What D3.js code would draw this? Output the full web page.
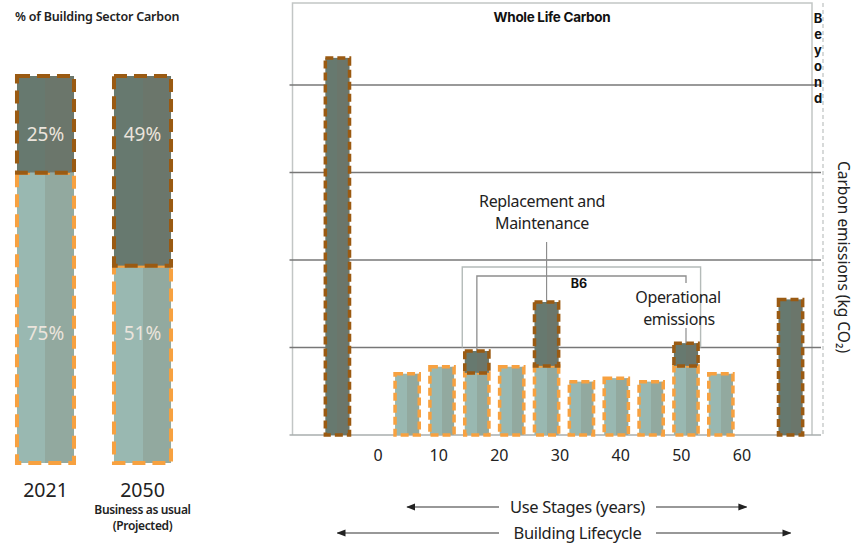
<!doctype html>
<html>
<head>
<meta charset="utf-8">
<title>Whole Life Carbon</title>
<script src="https://cdnjs.cloudflare.com/ajax/libs/d3/7.8.5/d3.min.js"></script>
<style>
  body { margin: 0; background: #fff; }
  text { font-family: "Noto Sans", sans-serif; fill: #222; }
  .bold { font-family: Inter, "DejaVu Sans", sans-serif; font-weight: 700; fill: #111; }
</style>
</head>
<body>
<div id="chart"></div>
<script>
  // left panel: % of building sector carbon
  const shareYears = ['2021', '2050'];
  const shareOperational = [75, 51];
  const shareEmbodied = [25, 49];

  // right panel: one slot per stage (gaps keep the spacing of the original)
  const stageKeys = ['A1-A5', 'gapA', 'U1', 'U2', 'U3', 'U4', 'U5', 'U6', 'U7', 'U8', 'U9', 'U10', 'gapC', 'C'];
  const operational = [0, 0, 70, 78, 71, 78, 79, 61, 65, 61, 79, 70, 0, 0];
  const embodied = [431, 0, 0, 0, 25, 0, 73, 0, 0, 0, 26, 0, 0, 155];
  const yearTicks = [0, 10, 20, 30, 40, 50, 60];
  const gridValues = [100, 200, 300, 400];

  const W = 857, H = 545;
  const svg = d3.select('#chart').append('svg').attr('width', W).attr('height', H);

  const colors = {
    darkL: '#67796f', darkR: '#6b766b', lightL: '#99b8b1', lightR: '#92a99f',
    brown: '#9a5a12', orange: '#f7a140', grid: '#777', frame: '#c2c6c5'
  };

  // split-tone fills
  const defs = svg.append('defs');
  [['gDark', colors.darkL, colors.darkR], ['gLight', colors.lightL, colors.lightR]].forEach(([id, a, b]) => {
    const g = defs.append('linearGradient').attr('id', id).attr('x1', 0).attr('x2', 1).attr('y1', 0).attr('y2', 0);
    g.append('stop').attr('offset', '0%').attr('stop-color', a);
    g.append('stop').attr('offset', '50%').attr('stop-color', a);
    g.append('stop').attr('offset', '50%').attr('stop-color', b);
    g.append('stop').attr('offset', '100%').attr('stop-color', b);
  });
  defs.append('marker').attr('id', 'arrow').attr('viewBox', '0 0 10 10')
    .attr('refX', 9).attr('refY', 5).attr('markerWidth', 9).attr('markerHeight', 9)
    .attr('markerUnits', 'userSpaceOnUse').attr('orient', 'auto-start-reverse')
    .append('path').attr('d', 'M0,1 L10,5 L0,9 Z').attr('fill', '#222');

  // ---------- left panel ----------
  svg.append('text').attr('x', 15).attr('y', 21)
    .style('font-size', '12.5px').style('font-weight', 600).style('letter-spacing', '-0.2px')
    .text('% of Building Sector Carbon');

  const xL = d3.scaleBand().domain(shareYears).range([-3, 191]).paddingInner(0.412).paddingOuter(0.206);
  const yL = d3.scaleLinear().domain([0, 100]).range([463, 76]);

  const leftRows = shareYears.map((yr, i) => ({ yr, operational: shareOperational[i], embodied: shareEmbodied[i] }));
  const leftStack = d3.stack().keys(['operational', 'embodied'])(leftRows);

  leftStack.forEach(layer => {
    const dark = layer.key === 'embodied';
    svg.append('g').selectAll('rect').data(layer).join('rect')
      .attr('x', d => xL(d.data.yr))
      .attr('width', xL.bandwidth())
      .attr('y', d => yL(d[1]))
      .attr('height', d => yL(d[0]) - yL(d[1]))
      .attr('fill', dark ? 'url(#gDark)' : 'url(#gLight)')
      .attr('stroke', dark ? colors.brown : colors.orange)
      .attr('stroke-width', 4)
      .attr('stroke-dasharray', '13,7');
  });

  // percentage labels sit on two fixed rows
  const labelRows = [{ vals: shareEmbodied, y: 134 }, { vals: shareOperational, y: 333 }];
  labelRows.forEach(r => {
    svg.append('g').selectAll('text').data(r.vals).join('text')
      .attr('x', (d, i) => xL(shareYears[i]) + xL.bandwidth() / 2)
      .attr('y', r.y)
      .attr('text-anchor', 'middle').attr('dominant-baseline', 'central')
      .style('font-size', '19px').style('fill', '#ebe4dc')
      .text(d => d + '%');
  });

  svg.append('g').selectAll('text').data(shareYears).join('text')
    .attr('x', d => xL(d) + xL.bandwidth() / 2)
    .attr('y', 497)
    .attr('text-anchor', 'middle')
    .style('font-size', '19.5px')
    .text(d => d);

  const bauX = xL('2050') + xL.bandwidth() / 2;
  svg.append('text').attr('x', bauX).attr('y', 514).attr('text-anchor', 'middle')
    .style('font-size', '12px').style('font-weight', 600).style('letter-spacing', '-0.35px')
    .text('Business as usual');
  svg.append('text').attr('x', bauX).attr('y', 530).attr('text-anchor', 'middle')
    .style('font-size', '12px').style('font-weight', 600).style('letter-spacing', '-0.35px')
    .text('(Projected)');

  // ---------- right panel ----------
  const plot = { left: 292.5, right: 812, top: 3, bottom: 435, beyond: 823 };
  const x = d3.scaleBand().domain(stageKeys).range([320, 808]).paddingInner(0.22).paddingOuter(0.11);
  const y = d3.scaleLinear().domain([0, 500]).range([plot.bottom, plot.bottom - 500 * 0.875]);
  const xYears = d3.scaleLinear().domain([0, 60]).range([378, 742]);

  // frame
  svg.append('path')
    .attr('d', `M${plot.left},${plot.bottom} V${plot.top} H${plot.right} V${plot.bottom}`)
    .attr('fill', 'none').attr('stroke', colors.frame).attr('stroke-width', 1.5);
  svg.append('line').attr('x1', plot.beyond).attr('x2', plot.beyond).attr('y1', plot.top).attr('y2', plot.bottom)
    .attr('stroke', colors.frame).attr('stroke-width', 1.3).attr('stroke-dasharray', '4,3');

  // gridlines
  svg.append('g').selectAll('line').data(gridValues).join('line')
    .attr('x1', plot.left - 3).attr('x2', plot.beyond - 2)
    .attr('y1', d => y(d)).attr('y2', d => y(d))
    .attr('stroke', colors.grid).attr('stroke-width', 1.6);
  svg.append('line').attr('x1', plot.left - 3).attr('x2', plot.beyond - 2)
    .attr('y1', y(0)).attr('y2', y(0)).attr('stroke', '#a9aeae').attr('stroke-width', 1.5);

  svg.append('text').attr('class', 'bold').attr('x', 552).attr('y', 22)
    .attr('text-anchor', 'middle').style('font-size', '13.5px').style('letter-spacing', '-0.3px')
    .text('Whole Life Carbon');

  const beyond = svg.append('text').attr('class', 'bold').attr('text-anchor', 'middle')
    .style('font-size', '13px');
  'Beyond'.split('').forEach((c, i) => {
    beyond.append('tspan').attr('x', 818).attr('y', 23 + i * 16).text(c);
  });

  svg.append('text')
    .attr('transform', 'translate(838,257) rotate(90)')
    .attr('text-anchor', 'middle')
    .style('font-size', '15.5px')
    .text('Carbon emissions (kg CO₂)');

  // annotation box + bracket for B6
  const bw = x.bandwidth();
  const bx0 = x('U3') - 1, bx1 = x('U9') + bw + 1;
  svg.append('path')
    .attr('d', `M${bx0},${y(100)} V267 H${bx1} V${y(100)}`)
    .attr('fill', 'none').attr('stroke', '#b4bbb9').attr('stroke-width', 1.4);
  const c3 = x('U3') + bw / 2, c5 = x('U5') + bw / 2, c9 = x('U9') + bw / 2;
  svg.append('path')
    .attr('d', `M${c3},${y(operational[4] + embodied[4])} V276 H${c9} V283`)
    .attr('fill', 'none').attr('stroke', '#8d8d8d').attr('stroke-width', 1.3);
  svg.append('text').attr('class', 'bold').attr('x', 579).attr('y', 288)
    .attr('text-anchor', 'middle').style('font-size', '12.5px').text('B6');

  // bars
  const rows = stageKeys.map((k, i) => ({ key: k, operational: operational[i], embodied: embodied[i] }));
  const stack = d3.stack().keys(['operational', 'embodied'])(rows);
  stack.forEach(layer => {
    const dark = layer.key === 'embodied';
    svg.append('g').selectAll('rect').data(layer.filter(d => d[1] > d[0])).join('rect')
      .attr('x', d => x(d.data.key) + 1.5)
      .attr('width', bw - 3)
      .attr('y', d => y(d[1]))
      .attr('height', d => y(d[0]) - y(d[1]))
      .attr('fill', dark ? 'url(#gDark)' : 'url(#gLight)')
      .attr('stroke', dark ? colors.brown : colors.orange)
      .attr('stroke-width', 3.5)
      .attr('stroke-dasharray', '8,4');
  });

  // leaders + callouts
  svg.append('line').attr('x1', c5).attr('x2', c5).attr('y1', 242).attr('y2', y(operational[6] + embodied[6]))
    .attr('stroke', '#8d8d8d').attr('stroke-width', 1.2);
  svg.append('line').attr('x1', c9).attr('x2', c9).attr('y1', 328).attr('y2', y(operational[10] + embodied[10]))
    .attr('stroke', '#8d8d8d').attr('stroke-width', 1.2);

  const rep = svg.append('text').attr('text-anchor', 'middle').style('font-size', '16px').style('letter-spacing', '-0.35px');
  rep.append('tspan').attr('x', 542).attr('y', 207).text('Replacement and');
  rep.append('tspan').attr('x', 542).attr('y', 229).text('Maintenance');
  const ope = svg.append('text').attr('text-anchor', 'middle').style('font-size', '16px').style('letter-spacing', '-0.35px');
  ope.append('tspan').attr('x', 678).attr('y', 303).text('Operational');
  ope.append('tspan').attr('x', 679).attr('y', 325).text('emissions');

  // year axis
  svg.append('g').selectAll('text').data(yearTicks).join('text')
    .attr('x', d => xYears(d)).attr('y', 461)
    .attr('text-anchor', 'middle').style('font-size', '16px')
    .text(d => d);

  // arrows under the chart
  function spanArrow(label, x0, x1, cy, gapL, gapR) {
    svg.append('line').attr('x1', gapL).attr('x2', x0).attr('y1', cy).attr('y2', cy)
      .attr('stroke', '#333').attr('stroke-width', 1.1).attr('marker-end', 'url(#arrow)');
    svg.append('line').attr('x1', gapR).attr('x2', x1).attr('y1', cy).attr('y2', cy)
      .attr('stroke', '#333').attr('stroke-width', 1.1).attr('marker-end', 'url(#arrow)');
    svg.append('text').attr('x', (gapL + gapR) / 2).attr('y', cy + 5.5)
      .attr('text-anchor', 'middle').style('font-size', '16.5px').style('letter-spacing', '-0.35px')
      .text(label);
  }
  spanArrow('Use Stages (years)', x('U1') + bw / 2, x('U10') + bw + 12, 507, 499, 656);
  spanArrow('Building Lifecycle', x('A1-A5') + bw / 2, x('C') + bw / 2, 533, 499, 656);
</script>
</body>
</html>
